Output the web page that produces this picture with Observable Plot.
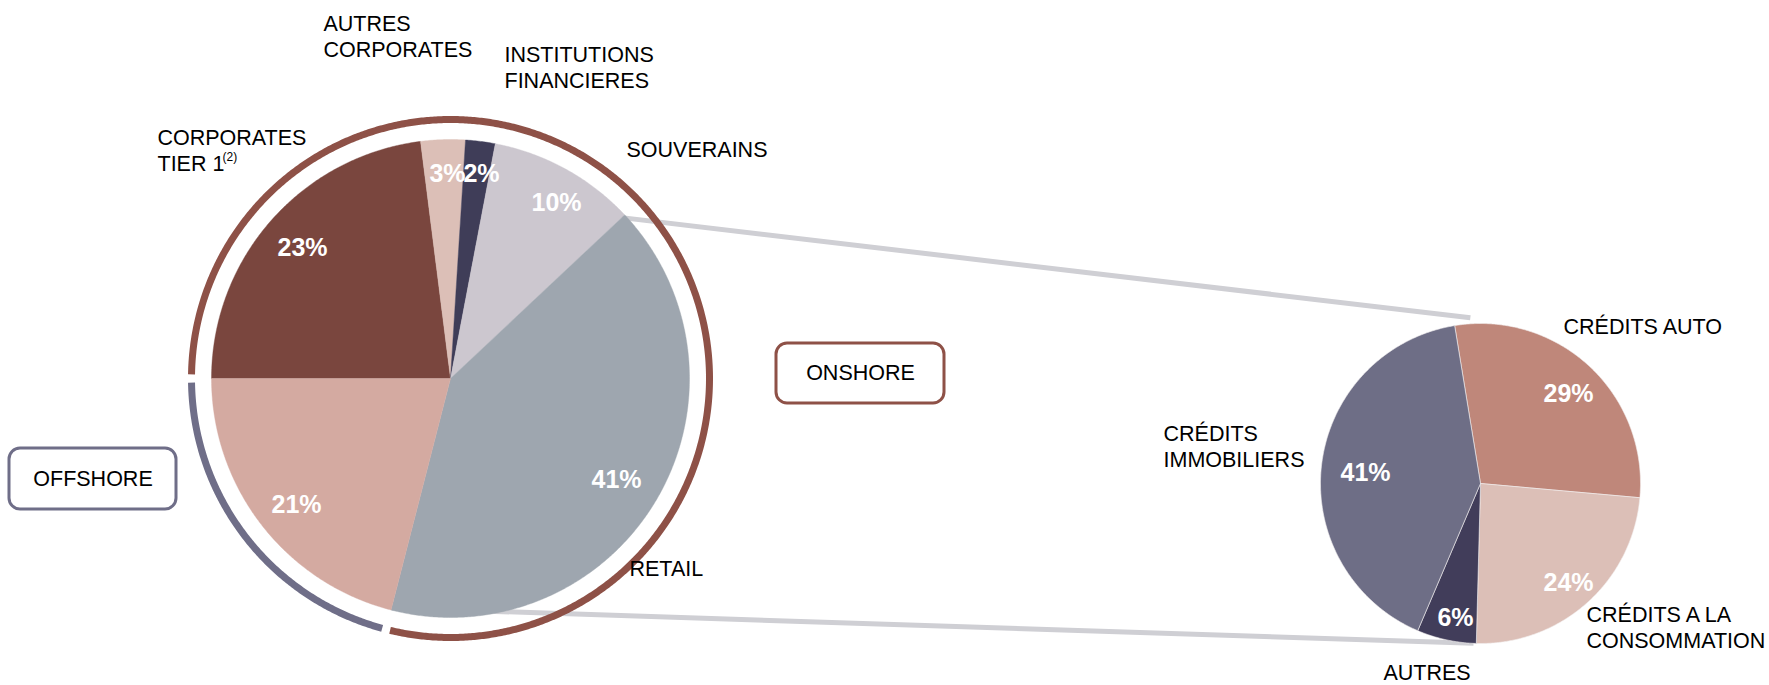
<!DOCTYPE html>
<html>
<head>
<meta charset="utf-8">
<script src="https://cdn.jsdelivr.net/npm/d3@7"></script>
<script src="https://cdn.jsdelivr.net/npm/@observablehq/plot@0.6"></script>
<style>
  html, body { margin: 0; padding: 0; background: #fff; }
  #chart svg { display: block; }
</style>
</head>
<body>
<div id="chart"></div>
<script>
// ---------- DATA ----------
const bigCategories = ["CORPORATES TIER 1", "AUTRES CORPORATES", "INSTITUTIONS FINANCIERES", "SOUVERAINS", "RETAIL", "OFFSHORE"];
const bigValues = [23, 3, 2, 10, 41, 21];
const bigLabelText = ["CORPORATES\nTIER 1", "AUTRES\nCORPORATES", "INSTITUTIONS\nFINANCIERES", "SOUVERAINS", "RETAIL", ""];
const bigSegment = ["ONSHORE", "ONSHORE", "ONSHORE", "ONSHORE", "ONSHORE", "OFFSHORE"];
const segments = ["ONSHORE", "OFFSHORE"];

const smallCategories = ["CRÉDITS AUTO", "CRÉDITS A LA CONSOMMATION", "AUTRES", "CRÉDITS IMMOBILIERS"];
const smallValues = [29, 24, 6, 41];
const smallLabelText = ["CRÉDITS AUTO", "CRÉDITS A LA\nCONSOMMATION", "AUTRES", "CRÉDITS\nIMMOBILIERS"];
const footnote = "(2)";

// ---------- STYLES / LAYOUT ----------
const W = 1769, H = 685;
const FONT = "Liberation Sans, Arial, Helvetica, sans-serif";
const bigColors = ["#7a463e", "#dcbfb7", "#3f3d58", "#ccc7cf", "#9ea6af", "#d4aaa1"];
const smallColors = ["#bf877a", "#dcbfb7", "#413d5a", "#6e6e86"];
const segColors = {ONSHORE: "#8e5147", OFFSHORE: "#6f6e88"};
const connectorColor = "#cfcfd4";
const deg = Math.PI / 180;

const big = {cx: 450, cy: 378, r: 239, start: -90 * deg, ringR: 259, ringW: 7, ringGap: 0.9 * deg};
const small = {cx: 1480, cy: 483, r: 160, start: -9.3 * deg};

const bigPctPos = [[302, 247], [447, 173], [481, 173], [556, 202], [616, 479], [296, 504]];
const bigLabelPos = [[157, 149], [323, 35], [504, 66], [626, 148], [629, 567], [0, 0]];
const smallPctPos = [[1568, 393], [1568, 582], [1455, 617], [1365, 472]];
const smallLabelPos = [[1563, 325], [1586, 626], [1383, 671], [1163, 445]];
const footnotePos = [222, 157];
const boxes = [
  {seg: "ONSHORE", x1: 776, x2: 944, y1: 343, y2: 403},
  {seg: "OFFSHORE", x1: 9, x2: 176, y1: 448, y2: 509}
];
// connector endpoints: from retail slice edges of big pie to small pie top/bottom
const connectorEnds = [{r: 166, a: -3.5 * deg}, {r: 160, a: 182.5 * deg}];

// ---------- GEOMETRY ----------
const pt = (c, r, a) => ({x: c.cx + r * Math.sin(a), y: c.cy - r * Math.cos(a)});

function pieArcs(values, start) {
  return d3.pie().sort(null).startAngle(start).endAngle(start + 2 * Math.PI)(values);
}
function slicePolys(arcs, keys, c) {
  const out = [];
  arcs.forEach((a, i) => {
    const key = keys[i];
    out.push({...pt(c, 0, 0), key});
    const n = Math.max(2, Math.ceil((a.endAngle - a.startAngle) / (0.4 * deg)));
    for (let k = 0; k <= n; k++) {
      const ang = a.startAngle + (a.endAngle - a.startAngle) * k / n;
      out.push({...pt(c, c.r, ang), key});
    }
    out.push({...pt(c, 0, 0), key});
  });
  return out;
}

const bigArcs = pieArcs(bigValues, big.start);
const smallArcs = pieArcs(smallValues, small.start);

const bigPoly = slicePolys(bigArcs, bigCategories, big);
const smallPoly = slicePolys(smallArcs, smallCategories, small);

// outer ring: one arc per segment (onshore / offshore) spanning its slices
const ringPts = [];
segments.forEach(seg => {
  const idx = bigArcs.map((a, i) => i).filter(i => bigSegment[i] === seg);
  const s = d3.min(idx, i => bigArcs[i].startAngle) + big.ringGap;
  const e = d3.max(idx, i => bigArcs[i].endAngle) - big.ringGap;
  const n = Math.ceil((e - s) / (0.4 * deg));
  for (let k = 0; k <= n; k++) ringPts.push({...pt(big, big.ringR, s + (e - s) * k / n), seg});
});

// connectors: retail slice boundaries -> small pie
const retail = bigArcs[bigCategories.indexOf("RETAIL")];
const connectors = [
  {...pt(big, big.r - 4, retail.startAngle), id: 0},
  {...pt(small, connectorEnds[0].r, connectorEnds[0].a), id: 0},
  {...pt(big, big.r - 2, retail.endAngle), id: 1},
  {...pt(small, connectorEnds[1].r, connectorEnds[1].a), id: 1}
];

const pctData = [
  ...bigValues.map((v, i) => ({text: v + "%", x: bigPctPos[i][0], y: bigPctPos[i][1]})),
  ...smallValues.map((v, i) => ({text: v + "%", x: smallPctPos[i][0], y: smallPctPos[i][1]}))
];
const catData = [
  ...bigLabelText.map((t, i) => ({text: t, x: bigLabelPos[i][0], y: bigLabelPos[i][1]})).filter(d => d.text),
  ...smallLabelText.map((t, i) => ({text: t, x: smallLabelPos[i][0], y: smallLabelPos[i][1]}))
];

const chart = Plot.plot({
  width: W,
  height: H,
  margin: 0,
  x: {domain: [0, W], range: [0, W], axis: null},
  y: {domain: [0, H], range: [0, H], axis: null},
  color: {domain: [...bigCategories, ...smallCategories], range: [...bigColors, ...smallColors]},
  style: {background: "#fff", fontFamily: FONT},
  marks: [
    Plot.line(connectors, {x: "x", y: "y", z: "id", stroke: connectorColor, strokeWidth: 5, strokeLinecap: "butt"}),
    Plot.line(bigPoly, {x: "x", y: "y", z: "key", fill: "key", stroke: "key", strokeWidth: 0.4, curve: "linear"}),
    Plot.line(smallPoly, {x: "x", y: "y", z: "key", fill: "key", stroke: "#f4f0f0", strokeWidth: 0.6, curve: "linear"}),
    Plot.line(ringPts.filter(d => d.seg === "ONSHORE"), {x: "x", y: "y", stroke: segColors.ONSHORE, strokeWidth: big.ringW, strokeLinecap: "butt"}),
    Plot.line(ringPts.filter(d => d.seg === "OFFSHORE"), {x: "x", y: "y", stroke: segColors.OFFSHORE, strokeWidth: big.ringW, strokeLinecap: "butt"}),
    Plot.rect(boxes, {x1: "x1", x2: "x2", y1: "y1", y2: "y2", fill: "#fff", stroke: d => segColors[d.seg], strokeWidth: 3, rx: 11}),
    Plot.text(boxes, {x: d => (d.x1 + d.x2) / 2, y: d => (d.y1 + d.y2) / 2, text: "seg", fontSize: 21.5, fill: "#000", fontFamily: FONT}),
    Plot.text(pctData, {x: "x", y: "y", text: "text", fill: "#fff", fontSize: 25, fontWeight: "bold", fontFamily: FONT}),
    Plot.text(catData, {x: "x", y: "y", text: "text", fill: "#000", fontSize: 21.5, textAnchor: "start", lineHeight: 1.22, lineAnchor: "middle", fontFamily: FONT}),
    Plot.text([footnote], {x: footnotePos[0], y: footnotePos[1], text: d => d, fontSize: 12, textAnchor: "start", fill: "#000", fontFamily: FONT})
  ]
});
document.getElementById("chart").appendChild(chart);
</script>
</body>
</html>
